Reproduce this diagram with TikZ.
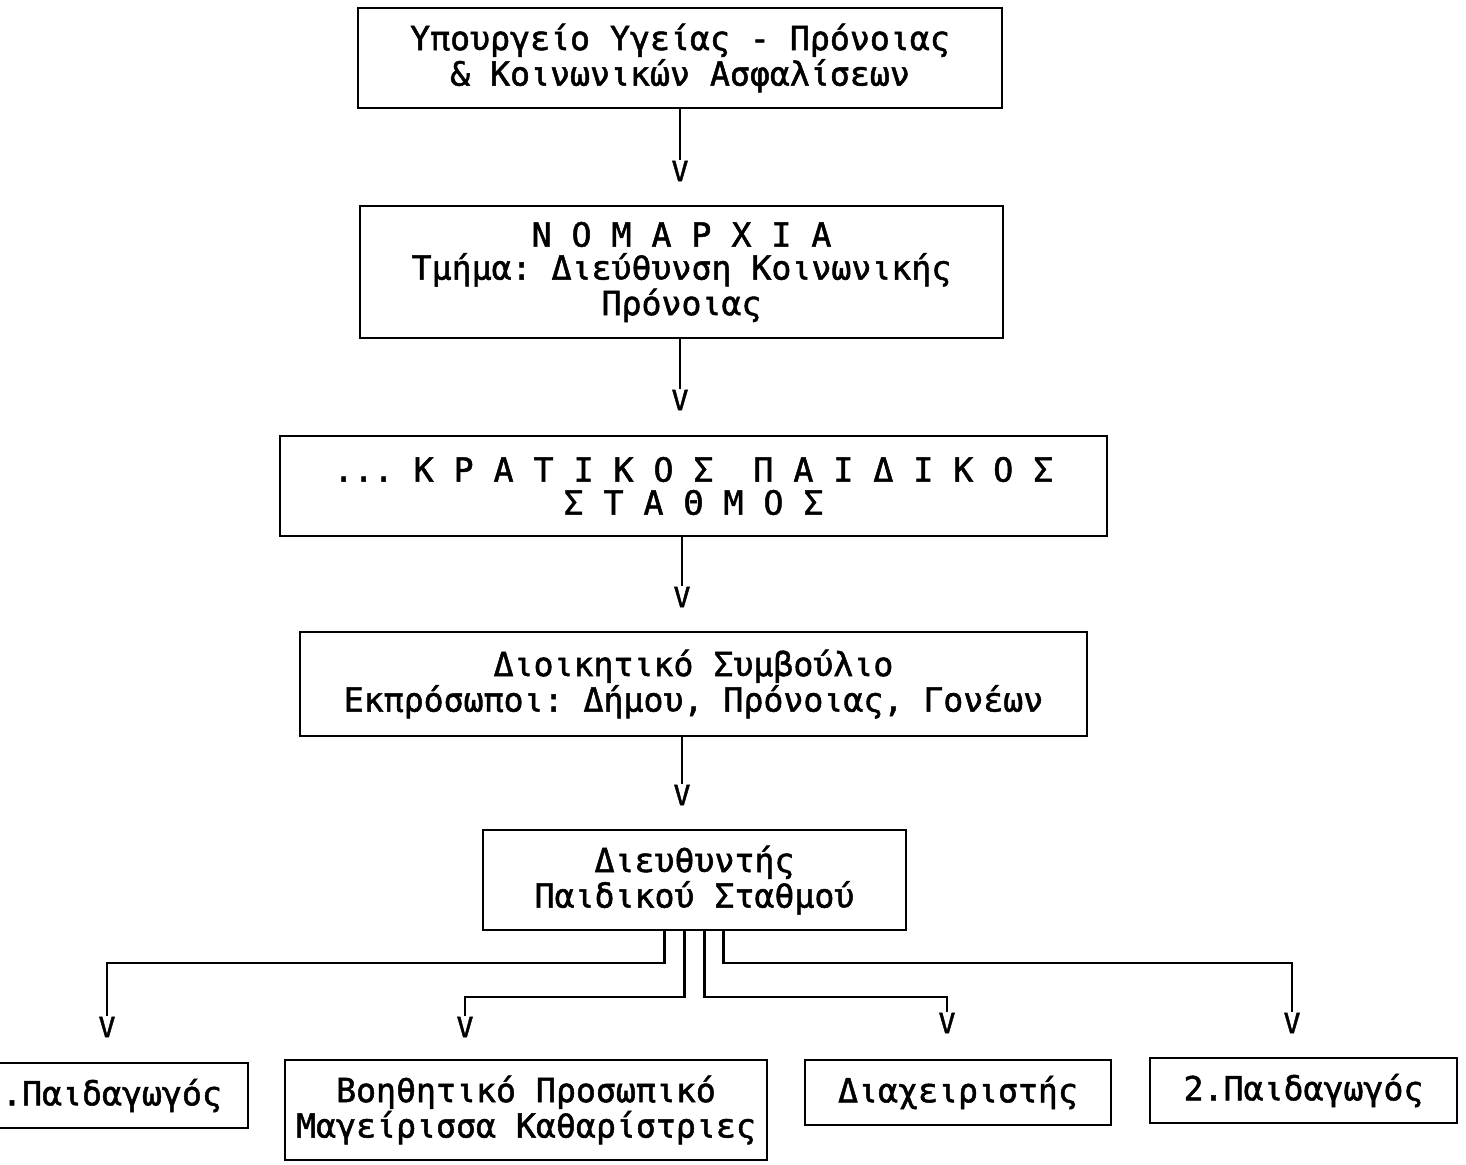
\documentclass[tikz,border=0pt]{standalone}
\usepackage{fontspec}
\newfontfamily\dotfont[FakeBold=1.5]{DejaVu Sans Mono}
\newcommand\boxtext{\dotfont\fontsize{16.6}{16.5}\selectfont\frenchspacing}
\newcommand\tiptext{\dotfont\fontsize{14}{14}\selectfont}
\usetikzlibrary{calc}

\begin{document}
\begin{tikzpicture}[x=0.5pt,y=-0.5pt,line width=1.1pt,
    box/.style={draw,align=center,inner sep=0pt,font=\boxtext},
    tipv/.style={inner sep=0pt,font=\tiptext}]
  \useasboundingbox (0,0) rectangle (1466,1164);
  \clip (0,0) rectangle (1466,1164);
  % κεντρική ιεραρχία
  \node[box,minimum width=322pt,minimum height=50pt] (min) at (680,58)
    {Υπουργείο Υγείας - Πρόνοιας\\\& Κοινωνικών Ασφαλίσεων};
  \node[box,minimum width=321.5pt,minimum height=66pt] (nom) at (681.5,272)
    {Ν Ο Μ Α Ρ Χ Ι Α\\Τμήμα: Διεύθυνση Κοινωνικής\\Πρόνοιας};
  \node[box,minimum width=413.5pt,minimum height=50pt] (kps) at (693.5,486)
    {... Κ Ρ Α Τ Ι Κ Ο Σ~~Π Α Ι Δ Ι Κ Ο Σ\\Σ Τ Α Θ Μ Ο Σ};
  \node[box,minimum width=393.5pt,minimum height=52pt] (ds) at (693.5,684)
    {Διοικητικό Συμβούλιο\\Εκπρόσωποι: Δήμου, Πρόνοιας, Γονέων};
  \node[box,minimum width=211.5pt,minimum height=50pt] (dir) at (694.5,880)
    {Διευθυντής\\Παιδικού Σταθμού};
  % προσωπικό
  \node[box,minimum width=136pt,minimum height=32.5pt] (ped1) at (112,1095.5) {.Παιδαγωγός};
  \node[box,minimum width=241pt,minimum height=50pt] (boh) at (526,1110)
    {Βοηθητικό Προσωπικό\\Μαγείρισσα Καθαρίστριες};
  \node[box,minimum width=153pt,minimum height=32.5pt] (dia) at (958,1092.5) {Διαχειριστής};
  \node[box,minimum width=153.5pt,minimum height=32.5pt] (ped2) at (1303.5,1090.5) {2.Παιδαγωγός};
  % αιχμές "V"
  \node[tipv] (v1) at (680,171) {V};
  \node[tipv] (v2) at (680,400) {V};
  \node[tipv] (v3) at (682,597) {V};
  \node[tipv] (v4) at (682,795) {V};
  \node[tipv] (va) at (107,1027) {V};
  \node[tipv] (vb) at (465,1027) {V};
  \node[tipv] (vc) at (947,1023) {V};
  \node[tipv] (vd) at (1292,1023) {V};
  \draw (min.south -| v1) -- (v1.north);
  \draw (nom.south -| v2) -- (v2.north);
  \draw (kps.south -| v3) -- (v3.north);
  \draw (ds.south -| v4) -- (v4.north);
  \draw ($(dir.south)+(-30,0)$) -- ++(0,32) -| (va.north);
  \draw ($(dir.south)+(-10,0)$) -- ++(0,66) -| (vb.north);
  \draw ($(dir.south)+(10,0)$) -- ++(0,66) -| (vc.north);
  \draw ($(dir.south)+(29,0)$) -- ++(0,32) -| (vd.north);
\end{tikzpicture}
\end{document}
